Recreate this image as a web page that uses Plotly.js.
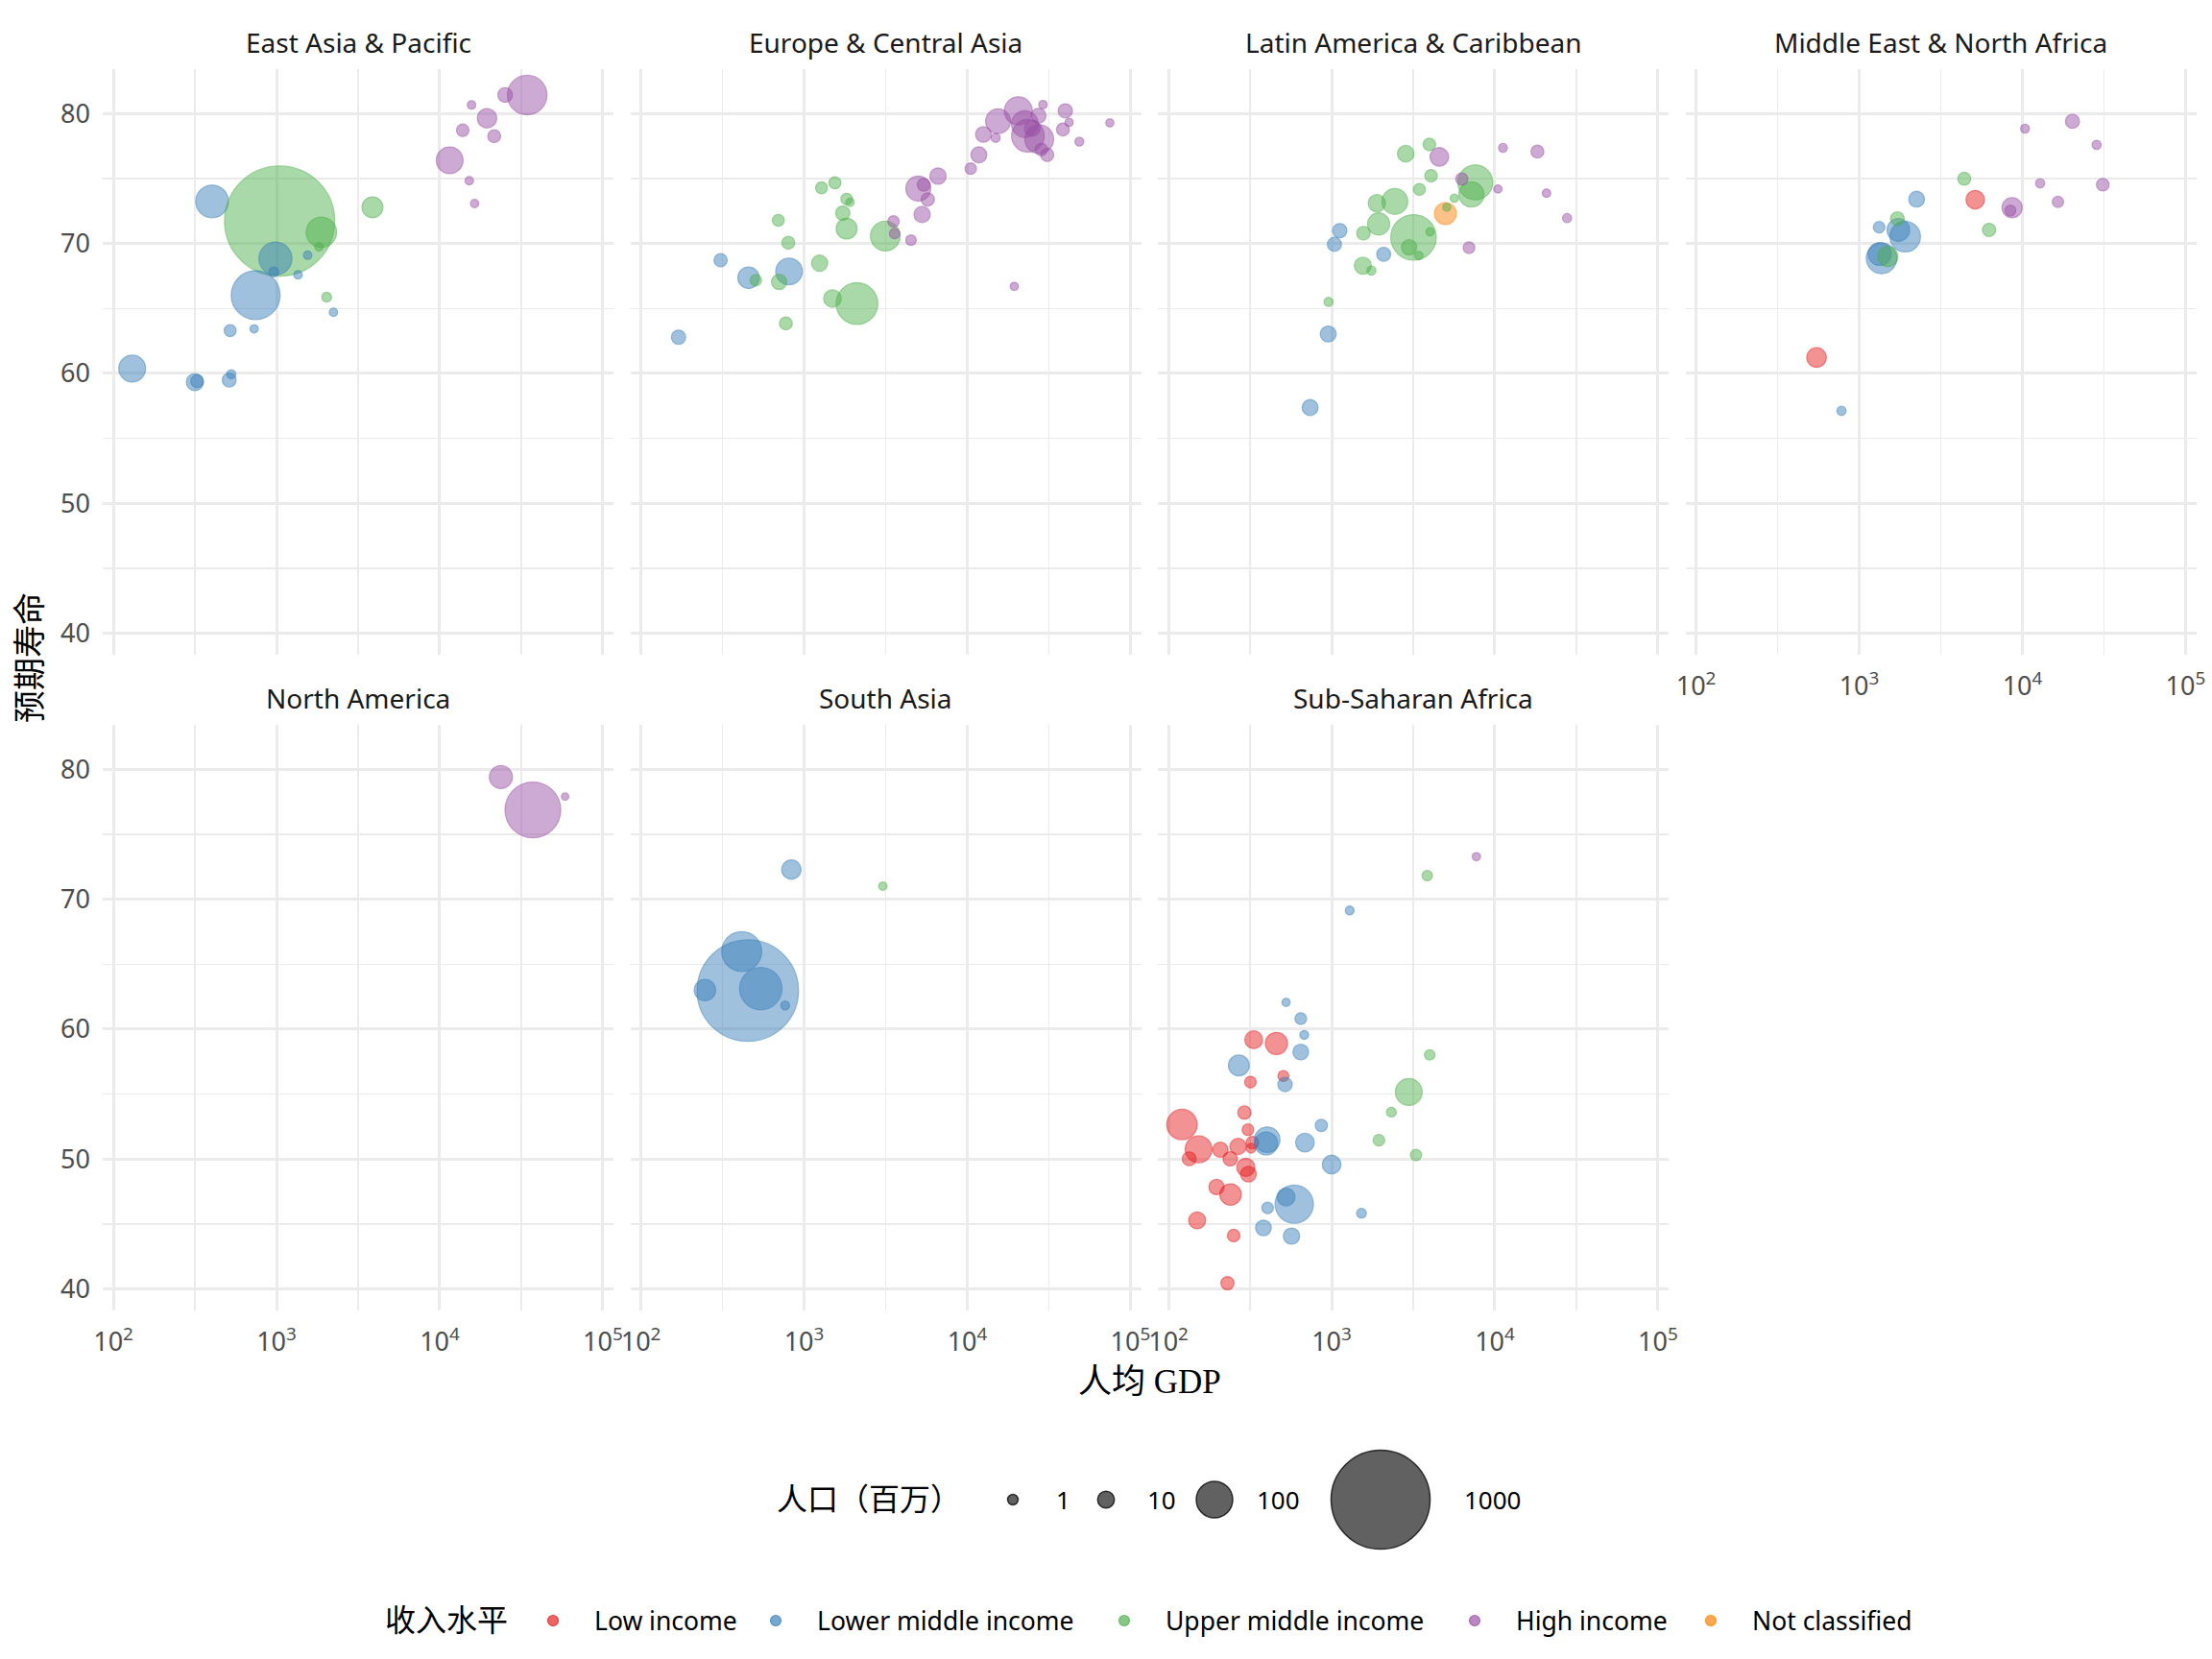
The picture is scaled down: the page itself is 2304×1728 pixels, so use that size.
<!DOCTYPE html>
<html><head><meta charset="utf-8">
<script src="https://cdn.plot.ly/plotly-3.0.1.min.js"></script>
<style>html,body{margin:0;padding:0;background:#fff}#chart{width:2304px;height:1728px}</style>
</head><body><div id="chart"></div>
<script>
// ---------------- DATA ----------------
const regionNames = ['East Asia & Pacific','Europe & Central Asia','Latin America & Caribbean','Middle East & North Africa','North America','South Asia','Sub-Saharan Africa'];
const incomeLevels = ['L','LM','UM','H','NC'];
const incomeLabels = ['Low income','Lower middle income','Upper middle income','High income','Not classified'];
const sizeBreaks = [1,10,100,1000];
const xTickVals = [100,1000,10000,100000];
const xTickText = ['10<sup>2</sup>','10<sup>3</sup>','10<sup>4</sup>','10<sup>5</sup>'];
const yTickVals = [40,50,60,70,80];

const eapGdp  = [34360,25180,15670,19500,13840,21580,11510,15170,16370,403,1045,3874,1884,1820,985,962,1552,1355,745,2029,2233,520,729,130.5,316,326,513,528];
const eapLife = [81.44,81.44,80.67,79.65,78.72,78.27,76.41,74.84,73.08,73.24,71.73,72.79,70.87,69.74,68.85,67.82,69.1,67.6,66.03,65.87,64.71,63.3,63.43,60.38,59.33,59.4,59.49,59.94];
const eapPop  = [132,8,0.5,20,4.5,5,50,0.5,0.45,83,1290,25,69,0.5,85,1.35,0.5,0.5,216,1.35,0.45,3.6,0.4,50,13.4,5,6.7,0.87];
const eapInc  = ['H','H','H','H','H','H','H','H','H','LM','UM','UM','UM','UM','LM','LM','LM','LM','LM','UM','LM','LM','LM','LM','LM','LM','LM','LM'];

const ecaGdp  = [170,308,457,809,506,703,695,800,774,1245,1280,1545,1823,1913,1726,1823,1493,2110,3148,3533,3590,4520,5012,5410,5730,5290,6620,10500,11780,12560,14930,15450,20560,22540,23550,27350,27600,25060,29110,30890,28440,39900,38550,42070,48640,74800,19410];
const ecaLife = [62.79,68.72,67.37,67.85,67.18,67.05,71.79,70.06,63.85,68.49,74.29,74.68,73.43,73.17,72.34,71.15,65.77,65.38,70.58,71.7,70.77,70.26,74.23,74.52,73.4,72.24,75.19,75.77,76.83,78.4,78.14,79.42,80.22,79.2,78.3,79.84,78.04,78.88,80.7,76.83,77.24,80.22,78.78,79.33,77.85,79.29,66.7];
const ecaPop  = [7.4,5.6,27,49,3.1,9.4,3.6,5,5,11.7,3.6,3.9,3.1,0.45,7.5,25,15,149,65,3.1,2,2,41,5,5.6,11.7,11.7,2.9,11,10.4,0.87,41,56,50,83,8.6,60,11,0.5,5.6,4.5,7.4,5,0.4,0.7,0.35,0.4];
const ecaInc  = ['LM','LM','LM','LM','UM','UM','UM','UM','UM','UM','UM','UM','UM','UM','UM','UM','UM','UM','UM','H','H','H','H','H','H','H','H','H','H','H','H','H','H','H','H','H','H','H','H','H','H','H','H','H','H','H','H'];

const lacGdp  = [738,953,1040,1122,2084,957,1553,1753,1567,1893,1940,2440,2846,3970,4065,3450,3177,2985,3420,4010,5650,7590,7190,6280,4980,5080,4570,11220,18240,10450,20750,27730,6950];
const lacLife = [57.37,63.04,69.94,70.99,69.17,65.51,68.3,67.92,70.8,73.11,71.51,73.24,76.92,77.63,75.22,74.17,70.48,69.71,69.07,70.9,73.49,74.71,73.78,74.97,72.31,72.79,76.67,77.37,77.08,74.2,73.88,71.96,69.68];
const lacPop  = [11,11,7,7.5,6.7,0.87,13.4,0.87,6.2,14,29.7,45.5,12.5,4.5,4.5,3.6,183,9.4,0.5,0.4,0.4,97,42,4,28.5,0.3,18,0.7,5,0.4,0.5,0.87,3.3];
const lacInc  = ['LM','LM','LM','LM','LM','UM','UM','UM','UM','UM','UM','UM','UM','UM','UM','UM','UM','UM','UM','UM','UM','UM','UM','H','NC','UM','H','H','H','H','H','H','H'];

const menaGdp  = [548,779,1371,1337,1496,1325,1738,1914,1714,2249,4405,5140,6250,8650,8450,10380,20270,28510,12850,16530,31100];
const menaLife = [61.23,57.12,68.86,69.2,69.0,71.26,71.05,70.53,71.92,73.42,74.99,73.38,71.05,72.76,72.55,78.85,79.41,77.6,74.64,73.21,74.53];
const menaPop  = [20.7,0.93,70,33,23,3.2,31.6,70,6.3,10.4,5.1,17.5,5.7,23,2.4,0.7,6.9,0.93,0.93,2.8,4.6];
const menaInc  = ['L','LM','LM','LM','UM','LM','LM','LM','UM','LM','UM','L','UM','H','H','H','H','H','H','H','H'];

const naGdp  = [23710,37240,58720];
const naLife = [79.41,76.88,77.91];
const naPop  = [33,292,0.1];
const naInc  = ['H','H','H'];

const saGdp  = [415,766,452,3040,247,543,836];
const saLife = [65.98,61.83,62.97,71.01,63.01,63.12,72.29];
const saPop  = [135,0.7,1083,0.5,27,155,20];
const saInc  = ['LM','LM','LM','UM','LM','LM','LM'];

const ssaGdp  = [121,153,134,150,208,239,267,197,240,251,230,292,307,318,333,459,506,327,321,298,309,270,403,397,518,526,647,679,647,686,865,1000,590,526,405,382,568,1524,1291,2970,3990,2323,1949,3288,3855,7710];
const ssaLife = [52.66,50.75,50.02,45.28,50.72,50.02,50.97,47.85,47.27,44.11,40.44,53.58,52.26,55.93,59.19,58.9,56.4,51.27,50.83,49.36,48.84,57.21,51.49,51.2,55.74,62.06,60.81,59.56,58.24,51.27,52.59,49.58,46.53,47.08,46.24,44.7,44.07,45.83,69.14,55.16,58.02,53.61,51.45,50.31,71.82,73.28];
const ssaPop  = [69,50,6.7,13.4,9.4,7.5,11.7,9.4,27,4.5,5.6,5.6,3.3,3.1,15.5,29.7,2.4,4.5,1.35,16.5,10.4,25,44,33,7.5,0.4,3.3,0.7,10.4,18,4,18,122,15.5,3.1,10.4,11.7,1.35,0.7,50,2,1.35,3.3,2.9,2,0.4];
const ssaInc  = ['L','L','L','L','L','L','L','L','L','L','L','L','L','L','L','L','L','L','L','L','L','LM','LM','LM','LM','LM','LM','LM','LM','LM','LM','LM','LM','LM','LM','LM','LM','LM','LM','UM','UM','UM','UM','UM','UM','H'];

// ---------------- STYLE / LAYOUT ----------------
const W = 2304, H = 1728;
const incomeRGB = {L:'228,26,28', LM:'55,126,184', UM:'77,175,74', H:'152,78,163', NC:'255,127,0'};
const rgba = (c, a) => 'rgba(' + incomeRGB[c] + ',' + a + ')';
const LW = 1.3;
function sizeOf(p) { return 7.9 + 3.01 * Math.sqrt(p) - LW; }

const panels = [
  {gdp: eapGdp, life: eapLife, pop: eapPop, inc: eapInc},
  {gdp: ecaGdp, life: ecaLife, pop: ecaPop, inc: ecaInc},
  {gdp: lacGdp, life: lacLife, pop: lacPop, inc: lacInc},
  {gdp: menaGdp, life: menaLife, pop: menaPop, inc: menaInc},
  {gdp: naGdp, life: naLife, pop: naPop, inc: naInc},
  {gdp: saGdp, life: saLife, pop: saPop, inc: saInc},
  {gdp: ssaGdp, life: ssaLife, pop: ssaPop, inc: ssaInc}
];
const colPx = [[107,639],[656.5,1188.5],[1206,1738],[1755.5,2287.5]];
const rowPx = [[72,682],[755,1365]];
const grid = [[0,0],[0,1],[0,2],[0,3],[1,0],[1,1],[1,2]];
const showX = [false,false,false,true,true,true,true];
const showY = [true,false,false,false,true,false,false];

const GRID = '#ebebeb';
const tickFont = {family: 'Noto Sans, Open Sans, sans-serif', size: 27, color: '#4d4d4d'};
const serif = 'Liberation Serif, "Noto Sans CJK SC", serif';

const layout = {
  width: W, height: H,
  margin: {l: 0, r: 0, t: 0, b: 0, pad: 0},
  paper_bgcolor: '#ffffff', plot_bgcolor: '#ffffff',
  showlegend: false,
  font: {family: 'Noto Sans, Open Sans, sans-serif', color: '#000'},
  annotations: [], shapes: []
};
const traces = [];

panels.forEach((p, i) => {
  const s = i === 0 ? '' : String(i + 1);
  const [r, c] = grid[i];
  layout['xaxis' + s] = {
    domain: [colPx[c][0] / W, colPx[c][1] / W],
    anchor: 'y' + s, type: 'log', range: [1.935, 5.065],
    tickmode: 'array', tickvals: xTickVals, ticktext: xTickText,
    showticklabels: showX[i], tickfont: tickFont, ticks: '', ticklabelstandoff: 14,
    showgrid: true, gridcolor: GRID, gridwidth: 3,
    minor: {tickmode: 'array', tickvals: [Math.pow(10,2.5), Math.pow(10,3.5), Math.pow(10,4.5)], showgrid: true, gridcolor: GRID, gridwidth: 1.6, ticks: ''},
    zeroline: false, showline: false, automargin: false, fixedrange: true
  };
  layout['yaxis' + s] = {
    domain: [1 - rowPx[r][1] / H, 1 - rowPx[r][0] / H],
    anchor: 'x' + s, range: [38.34, 83.43],
    tickmode: 'array', tickvals: yTickVals,
    showticklabels: showY[i], tickfont: tickFont, ticks: '', ticklabelstandoff: 12,
    showgrid: true, gridcolor: GRID, gridwidth: 3,
    minor: {tickmode: 'array', tickvals: [45,55,65,75], showgrid: true, gridcolor: GRID, gridwidth: 1.6, ticks: ''},
    zeroline: false, showline: false, automargin: false, fixedrange: true
  };
  traces.push({
    type: 'scatter', mode: 'markers',
    x: p.gdp, y: p.life,
    xaxis: 'x' + s, yaxis: 'y' + s,
    marker: {
      size: p.pop.map(sizeOf), sizemode: 'diameter',
      color: p.inc.map(k => rgba(k, 0.68)),
      line: {color: p.inc.map(k => rgba(k, 0.75)), width: LW}
    },
    hoverinfo: 'skip', showlegend: false, cliponaxis: false
  });
  // strip title
  layout.annotations.push({
    text: regionNames[i], xref: 'paper', yref: 'paper',
    x: (colPx[c][0] + colPx[c][1]) / 2 / W, y: 1 - (rowPx[r][0] - 28) / H,
    xanchor: 'center', yanchor: 'middle', showarrow: false,
    font: {family: 'Noto Sans, Open Sans, sans-serif', size: 28, color: '#1a1a1a'}
  });
});

// axis titles
layout.annotations.push({
  text: '人均 GDP', xref: 'paper', yref: 'paper', x: 1197 / W, y: 1 - 1439 / H,
  xanchor: 'center', yanchor: 'middle', showarrow: false,
  font: {family: serif, size: 35, color: '#000'}
});
layout.annotations.push({
  text: '预期寿命', xref: 'paper', yref: 'paper', x: 32 / W, y: 1 - 685 / H,
  xanchor: 'center', yanchor: 'middle', showarrow: false, textangle: -90,
  font: {family: serif, size: 34, color: '#000'}
});

// size legend
const sizeY = 1562;
const sizeCx = [1055, 1152, 1265, 1438];
const sizeLabelX = [1098, 1193, 1307, 1523];
layout.annotations.push({
  text: '人口（百万）', xref: 'paper', yref: 'paper', x: 807 / W, y: 1 - sizeY / H,
  xanchor: 'left', yanchor: 'middle', showarrow: false,
  font: {family: serif, size: 32, color: '#000'}
});
sizeBreaks.forEach((b, k) => {
  const d = sizeOf(b) + LW;
  layout.shapes.push({
    type: 'circle', xref: 'paper', yref: 'paper',
    x0: (sizeCx[k] - d / 2) / W, x1: (sizeCx[k] + d / 2) / W,
    y0: 1 - (sizeY + d / 2) / H, y1: 1 - (sizeY - d / 2) / H,
    fillcolor: 'rgba(0,0,0,0.62)', line: {color: 'rgba(0,0,0,0.75)', width: 1.5}
  });
  layout.annotations.push({
    text: String(b), xref: 'paper', yref: 'paper', x: sizeLabelX[k] / W, y: 1 - sizeY / H,
    xanchor: 'left', yanchor: 'middle', showarrow: false,
    font: {family: 'Noto Sans, Open Sans, sans-serif', size: 26, color: '#000'}
  });
});

// income legend
const incY = 1688;
const incDotX = [576, 808, 1171, 1536, 1782];
layout.annotations.push({
  text: '收入水平', xref: 'paper', yref: 'paper', x: 399 / W, y: 1 - incY / H,
  xanchor: 'left', yanchor: 'middle', showarrow: false,
  font: {family: serif, size: 32, color: '#000'}
});
incomeLevels.forEach((k, j) => {
  const d = 11;
  layout.shapes.push({
    type: 'circle', xref: 'paper', yref: 'paper',
    x0: (incDotX[j] - d / 2) / W, x1: (incDotX[j] + d / 2) / W,
    y0: 1 - (incY + d / 2) / H, y1: 1 - (incY - d / 2) / H,
    fillcolor: rgba(k, 0.68), line: {color: rgba(k, 0.75), width: 1.2}
  });
  layout.annotations.push({
    text: incomeLabels[j], xref: 'paper', yref: 'paper', x: (incDotX[j] + 41) / W, y: 1 - incY / H,
    xanchor: 'left', yanchor: 'middle', showarrow: false,
    font: {family: 'Noto Sans, Open Sans, sans-serif', size: 26.5, color: '#000'}
  });
});

Plotly.newPlot('chart', traces, layout, {staticPlot: true, displayModeBar: false});
</script>
</body></html>
